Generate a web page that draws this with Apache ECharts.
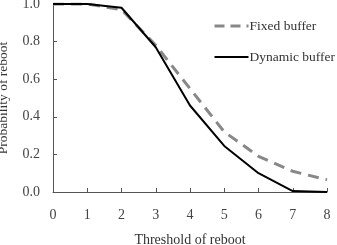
<!DOCTYPE html>
<html><head><meta charset="utf-8">
<script src="https://cdn.jsdelivr.net/npm/echarts@6/dist/echarts.min.js"></script>
<style>html,body{margin:0;padding:0;background:#fff}#c{width:337px;height:245px}</style>
</head><body><div id="c"></div>
<script>
const categories = [0,1,2,3,4,5,6,7,8];
const fixedBuffer = [1.0,1.0,0.97,0.78,0.55,0.32,0.19,0.11,0.065];
const dynamicBuffer = [1.0,1.0,0.98,0.77,0.46,0.245,0.10,0.005,0.0];
const yTicks = [0,0.2,0.4,0.6,0.8,1.0];
const font = 'Liberation Serif';
const chart = echarts.init(document.getElementById('c'));
chart.setOption({
  animation:false,
  grid:{left:53,right:10,top:4,bottom:53,outerBoundsMode:'none',containLabel:false},
  legend:{
    orient:'vertical', left:213, top:19, itemGap:17, itemWidth:34, itemHeight:14,
    padding:0,
    textStyle:{fontFamily:font,fontSize:13.5,color:'#333',padding:[0,0,0,-4],width:100,overflow:'none'},
    data:[
      {name:'Fixed buffer',itemStyle:{opacity:0},lineStyle:{type:[10,6],width:3,color:'#888'}},
      {name:'Dynamic buffer',itemStyle:{opacity:0},lineStyle:{width:2,color:'#000'}}
    ]
  },
  xAxis:{type:'value',min:0,max:8,interval:1,
    name:'Threshold of reboot',nameLocation:'middle',nameGap:41,
    nameTextStyle:{fontFamily:font,fontSize:14,color:'#333'},
    axisLine:{lineStyle:{color:'#555',width:1}},
    axisTick:{inside:true,length:4,lineStyle:{color:'#555'}},
    axisLabel:{fontFamily:font,fontSize:14,color:'#444',margin:16},
    splitLine:{show:false}},
  yAxis:{type:'value',min:0,max:1,interval:0.2,
    name:'Probability of reboot',nameLocation:'middle',nameGap:43,
    nameTextStyle:{fontFamily:font,fontSize:13.5,color:'#333'},
    axisLine:{show:true,lineStyle:{color:'#555',width:1}},
    axisTick:{show:true,inside:true,length:4,lineStyle:{color:'#555'}},
    axisLabel:{fontFamily:font,fontSize:14,color:'#444',margin:13,formatter:v=>v.toFixed(1)},
    splitLine:{show:false}},
  series:[
    {name:'Fixed buffer',type:'line',symbol:'none',
     data:categories.map((x,i)=>[x,fixedBuffer[i]]),
     itemStyle:{color:'#888'},
     lineStyle:{color:'#888',width:3,type:[11,7]}},
    {name:'Dynamic buffer',type:'line',symbol:'none',
     data:categories.map((x,i)=>[x,dynamicBuffer[i]]),
     itemStyle:{color:'#000'},
     lineStyle:{color:'#000',width:2}}
  ]
});
</script></body></html>
